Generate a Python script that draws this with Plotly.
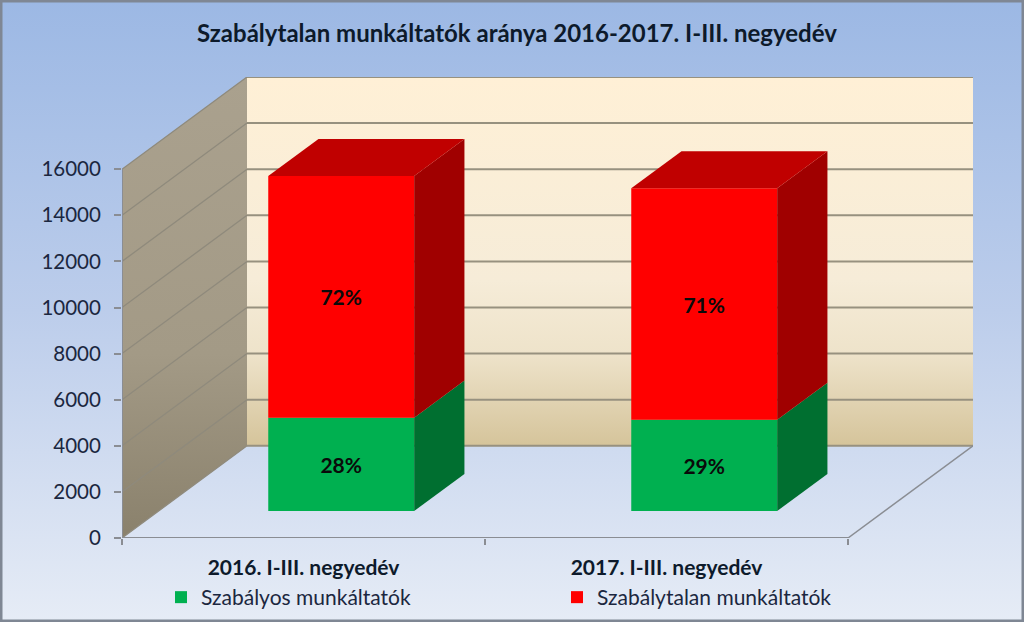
import plotly.graph_objects as go

# ---- data ----
categories = ["2016. I-III. negyedév", "2017. I-III. negyedév"]
regular = [4050, 3960]
irregular = [10480, 10040]
regular_pct = ["28%", "29%"]
irregular_pct = ["72%", "71%"]
series_names = ["Szabályos munkáltatók", "Szabálytalan munkáltatók"]
title_text = "Szabálytalan munkáltatók aránya 2016-2017. I-III. negyedév"
y_ticks = [0, 2000, 4000, 6000, 8000, 10000, 12000, 14000, 16000]

# ---- oblique projection: depth 0 (front) .. 1 (back wall) ----
W, H = 1024, 622
L, R, T, B = 122, 973, 77, 538
DEPTH_X = 125 / 363
DEPTH_Y = 4000
X_MAX = 2 + DEPTH_X
Y_MAX = 16000 + DEPTH_Y
BAR_W = 0.402
BAR_L = 0.302
D0, D1 = 0.293, 0.695
FONT = "Lato"
INK = "#1b2740"


def px(x, v, d=0.0):
    return x + d * DEPTH_X, v + d * DEPTH_Y


def poly(points):
    pts = [px(*p) for p in points] + [px(*points[0])]
    return [p[0] for p in pts], [p[1] for p in pts]


fig = go.Figure()


def area(xs, ys, axes, color=None, grad=None):
    kw = dict(fillgradient=dict(type="vertical", colorscale=grad)) if grad else dict(fillcolor=color)
    fig.add_trace(go.Scatter(x=xs, y=ys, mode="lines", fill="toself", line=dict(width=0),
                             hoverinfo="skip", showlegend=False, xaxis=axes[0], yaxis=axes[1], **kw))


def line(xs, ys, axes, color, width):
    fig.add_trace(go.Scatter(x=xs, y=ys, mode="lines", line=dict(color=color, width=width),
                             hoverinfo="skip", showlegend=False, xaxis=axes[0], yaxis=axes[1]))


# page background (gradient stops run from bottom to top)
area([0, W, W, 0, 0], [0, 0, H, H, 0], ("x", "y"),
     grad=[[0, "#e6ecf6"], [0.5, "#bccdeb"], [1, "#9cb8e4"]])

WALL = ("x2", "y2")
# back wall, side wall, floor lines
xs, ys = poly([(0, 0, 1), (2, 0, 1), (2, 16000, 1), (0, 16000, 1)])
area(xs, ys, WALL, grad=[[0, "#d5c49b"], [0.25, "#eee3ca"], [0.45, "#f6ecd8"], [1, "#fff0d6"]])
xs, ys = poly([(0, 0, 0), (0, 16000, 0), (0, 16000, 1), (0, 0, 1)])
area(xs, ys, WALL, grad=[[0, "#8a816c"], [0.4, "#a39a86"], [1, "#aaa18e"]])

for v in y_ticks:
    a = px(0, v, 0)
    b = px(0, v, 1)
    c = px(2, v, 1)
    line([b[0], c[0]], [b[1], c[1]], WALL, "#97917f", 2)
    line([a[0], b[0]], [a[1], b[1]], WALL, "#8f8a7c", 1.3)
# floor & axis edges
a, b = px(0, 0, 0), px(2, 0, 0)
line([a[0], b[0]], [a[1], b[1]], WALL, "#8a8d93", 2)
a, b = px(2, 0, 0), px(2, 0, 1)
line([a[0], b[0]], [a[1], b[1]], WALL, "#8a8d93", 1.5)
a, b = px(0, 0, 0), px(0, 16000, 0)
line([a[0], b[0]], [a[1], b[1]], WALL, "#8a8d93", 2)

BAR = ("x3", "y3")
base0 = D0 * DEPTH_Y
shift = D0 * DEPTH_X
# bar side and top faces
for i in range(len(categories)):
    l = i + BAR_L
    r = l + BAR_W
    g = regular[i]
    t = g + irregular[i]
    xs, ys = poly([(r, 0, D0), (r, 0, D1), (r, g, D1), (r, g, D0)])
    area(xs, ys, BAR, color="#006f30")
    xs, ys = poly([(r, g, D0), (r, g, D1), (r, t, D1), (r, t, D0)])
    area(xs, ys, BAR, color="#a00000")
    xs, ys = poly([(l, t, D0), (r, t, D0), (r, t, D1), (l, t, D1)])
    area(xs, ys, BAR, color="#c00000")

# bar front faces
bar_x = [i + BAR_L + BAR_W / 2 + shift for i in range(len(categories))]
label_font = dict(family=FONT, size=21, color="#0a0a0a", weight="bold")
fig.add_trace(go.Bar(x=bar_x, y=regular, base=[base0] * 2, width=BAR_W, name=series_names[0],
                     marker=dict(color="#00b050", line=dict(width=0)), text=regular_pct,
                     textposition="inside", insidetextanchor="middle", textangle=0,
                     insidetextfont=label_font, xaxis="x3", yaxis="y3", hoverinfo="skip"))
fig.add_trace(go.Bar(x=bar_x, y=irregular, base=[base0 + v for v in regular], width=BAR_W,
                     name=series_names[1],
                     marker=dict(color="#ff0000", line=dict(width=0)), text=irregular_pct,
                     textposition="inside", insidetextanchor="middle", textangle=0,
                     insidetextfont=label_font, xaxis="x3", yaxis="y3", hoverinfo="skip"))

dom_x = [L / W, R / W]
dom_y = [(H - B) / H, (H - T) / H]
hidden = dict(visible=False, fixedrange=True, automargin=False)

fig.update_layout(
    width=W, height=H,
    autosize=False,
    margin=dict(l=0, r=0, t=0, b=0),
    paper_bgcolor="#b8c9e8",
    plot_bgcolor="rgba(0,0,0,0)",
    barmode="overlay",
    font=dict(family=FONT, color=INK),
    title=dict(text=title_text, x=517 / W, xanchor="center", y=1 - 34 / H, yanchor="middle",
               automargin=False,
               font=dict(family=FONT, size=24, color="#0d1a2b", weight="bold")),
    xaxis=dict(range=[0, W], domain=[0, 1], **hidden),
    yaxis=dict(range=[0, H], domain=[0, 1], **hidden),
    xaxis2=dict(range=[0, X_MAX], domain=dom_x, anchor="y2", **hidden),
    yaxis2=dict(range=[0, Y_MAX], domain=dom_y, anchor="x2", **hidden),
    xaxis3=dict(range=[0, X_MAX], domain=dom_x, anchor="y3", fixedrange=True, automargin=False,
                tickmode="array", tickvals=[0.5, 1.5], ticktext=categories, ticks="",
                tickfont=dict(family=FONT, size=21, color="#0d1a2b", weight="bold"),
                ticklabelstandoff=15, showgrid=False, zeroline=False, showline=False,
                minor=dict(tickmode="array", tickvals=[0, 1, 2], ticks="outside", ticklen=6,
                           tickcolor="#8a8d93", tickwidth=1.5, showgrid=False)),
    yaxis3=dict(range=[0, Y_MAX], domain=dom_y, anchor="x3", fixedrange=True, automargin=False,
                tickmode="array", tickvals=y_ticks, ticks="outside", ticklen=7,
                tickcolor="#8a8d93", tickwidth=1.5, tickformat="d",
                tickfont=dict(family=FONT, size=20.5, color=INK),
                ticklabelstandoff=9, showgrid=False, zeroline=False, showline=False),
    legend=dict(orientation="h",
                x=161 / W, xanchor="left", y=4 / H, yanchor="bottom",
                entrywidth=351, entrywidthmode="pixels", traceorder="normal",
                font=dict(family=FONT, size=21, color=INK), bgcolor="rgba(0,0,0,0)"),
    shapes=[dict(type="rect", xref="paper", yref="paper", x0=0, x1=1, y0=0, y1=1,
                 line=dict(color="#7f8794", width=5), fillcolor="rgba(0,0,0,0)")],
)
fig.write_html("out.html", config=dict(displayModeBar=False),
               post_script="document.documentElement.style.overflow='hidden';"
                           "document.body.style.margin='0';document.body.style.overflow='hidden';")
